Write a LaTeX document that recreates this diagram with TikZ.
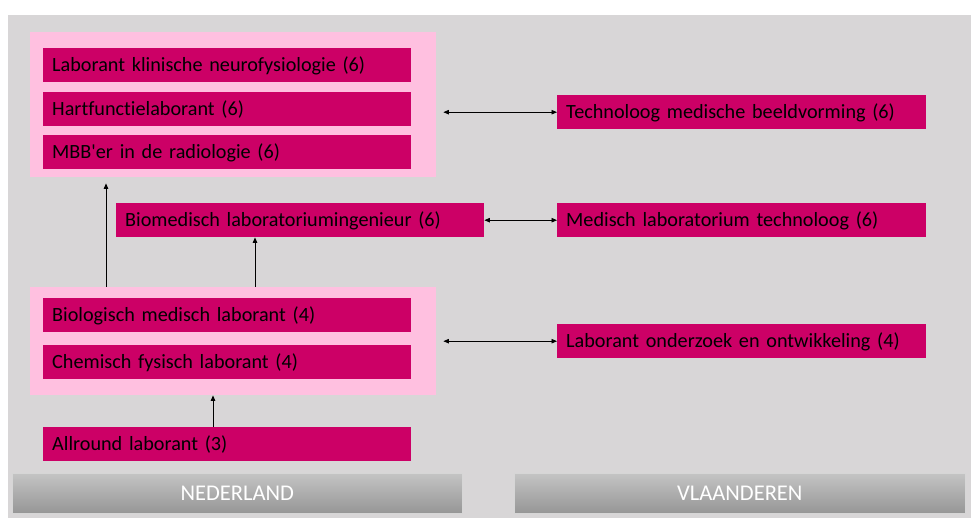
\documentclass[tikz,border=0pt]{standalone}
\usepackage{fontspec}
\setmainfont{Carlito}[Ligatures={TeXOff,NoCommon}]
\usetikzlibrary{arrows.meta}
\definecolor{panel}{RGB}{216,214,215}
\definecolor{grouppink}{RGB}{255,192,224}
\definecolor{boxmagenta}{RGB}{204,0,102}
\definecolor{bartop}{RGB}{196,196,196}
\definecolor{barbottom}{RGB}{150,150,150}
\tikzset{
  box/.style={rectangle, fill=boxmagenta, anchor=north west, inner xsep=9pt, inner ysep=0pt,
    text width=#1-18pt, minimum height=34pt, text height=14pt, text depth=1pt,
    align=left, font=\fontsize{20.2}{22}\selectfont, text=black},
  box/.default=368pt,
  group/.style={rectangle, fill=grouppink, anchor=north west, inner sep=0pt},
  countrybar/.style={rectangle, anchor=north west, inner sep=0pt, draw=bartop!70!white, line width=0.6pt,
    top color=bartop, bottom color=barbottom, text=white, font=\fontsize{22.5}{24}\selectfont},
  link/.style={line width=0.8pt, -{Triangle[length=5.5pt,width=4.5pt]}},
  dlink/.style={line width=0.8pt, {Triangle[length=5.5pt,width=4.5pt]}-{Triangle[length=5.5pt,width=4.5pt]}}
}
\begin{document}
\begin{tikzpicture}[x=1pt,y=-1pt]
  % canvas and grey panel
  \fill[white] (0,0) rectangle (971,518);
  \useasboundingbox (0,0) rectangle (971,518);
  \fill[panel] (8,15) rectangle (971,518);

  % pink groupings
  \node[group, minimum width=406pt, minimum height=145pt] (topgroup) at (30,32) {};
  \node[group, minimum width=406pt, minimum height=108pt] (botgroup) at (30,287) {};

  % Nederland
  \node[box] (neuro) at (43,48) {Laborant klinische neurofysiologie (6)};
  \node[box] (hart)  at (43,92) {Hartfunctielaborant (6)};
  \node[box] (mbb)   at (43,135) {MBB'er in de radiologie (6)};
  \node[box] (biomed) at (116,203) {Biomedisch laboratoriumingenieur (6)};
  \node[box] (biolab) at (43,298) {Biologisch medisch laborant (4)};
  \node[box] (chemlab) at (43,345) {Chemisch fysisch laborant (4)};
  \node[box] (allround) at (43,427) {Allround laborant (3)};

  % Vlaanderen
  \node[box=369pt] (techno) at (557,95) {Technoloog medische beeldvorming (6)};
  \node[box=369pt] (medlab) at (557,203) {Medisch laboratorium technoloog (6)};
  \node[box=369pt] (onderzoek) at (557,324) {Laborant onderzoek en ontwikkeling (4)};

  % country labels
  \node[countrybar, minimum width=450pt, minimum height=40pt] (nl) at (12,473) {NEDERLAND};
  \node[countrybar, minimum width=451pt, minimum height=40pt] (vl) at (514,473) {VLAANDEREN};

  % progression arrows
  \draw[link] (allround.north -| 213,0) -- (botgroup.south -| 213,0);
  \draw[link, shorten >=6pt] (botgroup.north -| 106,0) -- (topgroup.south -| 106,0);
  \draw[link] (botgroup.north -| 255,0) -- (biomed.south -| 255,0);

  % equivalences
  \draw[dlink, shorten <=7pt] (topgroup.east |- techno.west) -- (techno.west);
  \draw[dlink] (biomed.east) -- (medlab.west);
  \draw[dlink, shorten <=7pt] (botgroup.east |- onderzoek.west) -- (onderzoek.west);
\end{tikzpicture}
\end{document}
